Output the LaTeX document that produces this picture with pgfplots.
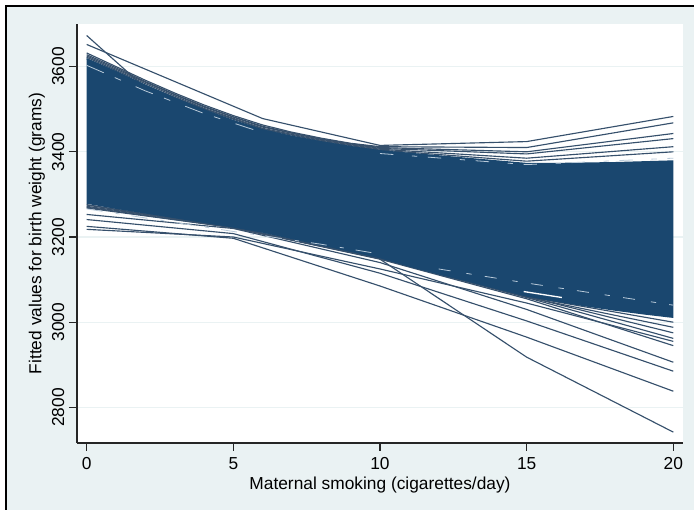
\documentclass[border=0pt]{standalone}
\usepackage{pgfplots}
\pgfplotsset{compat=1.18}
\usepackage{fontspec}
\setmainfont{Liberation Sans}
\definecolor{statabg}{HTML}{EAF2F3}
\definecolor{navy}{HTML}{1A476F}
\definecolor{lnc}{HTML}{36506C}
\definecolor{streak}{HTML}{B9CAD9}
\begin{document}
\begin{tikzpicture}[x=1pt,y=1pt]
\useasboundingbox (0,0) rectangle (520.5,382.5);
\fill[white] (0,0) rectangle (520.5,382.5);
\fill[statabg] (4.5,0) rectangle (520.5,378);
\draw[black, line width=1pt] (4.5,-1) -- (4.5,378) -- (521.5,378);
\begin{axis}[at={(57.75pt,50.25pt)}, anchor=south west, scale only axis,
 width=454.5pt, height=314.25pt,
 xmin=-0.33, xmax=20.33, ymin=2716.5, ymax=3700,
 axis background/.style={fill=white},
 axis x line*=bottom, axis y line*=left,
 axis line style={line width=0.8pt, black!85, -},
 xtick={0,5,10,15,20}, ytick={2800,3000,3200,3400,3600},
 tick align=outside, major tick length=6pt,
 tick style={line width=0.8pt, black!85},
 ymajorgrids, grid style={statabg, line width=0.8pt},
 /pgf/number format/assume math mode=true,
 /pgf/number format/1000 sep={},
 tick label style={font=\fontsize{13pt}{15pt}\selectfont, black},
 yticklabel style={rotate=90, anchor=south, xshift=0pt},
 xticklabel style={yshift=-1.5pt},
 label style={font=\fontsize{13pt}{15pt}\selectfont, black},
 xlabel={Maternal smoking (cigarettes/day)},
 ylabel={Fitted values for birth weight (grams)},
 xlabel style={at={(axis description cs:0.5,-0.1)}, anchor=center},
 ylabel style={at={(axis description cs:-0.066,0.5)}, anchor=center},
 every axis plot/.append style={mark=none},
 clip=true
]
% individual fitted lines (outliers of the bootstrap fan)
\addplot[lnc, line width=0.85pt] coordinates {(0,3673) (2,3550) (5,3400) (10,3148) (15,2918) (20,2742)};
\addplot[lnc, line width=0.85pt] coordinates {(0,3652) (6,3478) (10,3415) (15,3424) (20,3483)};
\addplot[lnc, line width=0.85pt] coordinates {(0,3632) (1,3600) (2,3568) (3,3538) (4,3510) (5,3485) (6,3463) (7,3446) (8,3432) (9,3420) (10,3412) (15,3410) (20,3468)};
\addplot[lnc, line width=0.85pt] coordinates {(0,3628) (1,3597) (2,3565) (3,3535) (4,3507) (5,3482) (6,3460) (7,3444) (8,3430) (9,3419) (10,3410) (15,3400) (20,3443)};
\addplot[lnc, line width=0.85pt] coordinates {(0,3625) (2,3563) (4,3505) (6,3458) (8,3429) (10,3408) (15,3395) (20,3431)};
\addplot[lnc, line width=0.85pt] coordinates {(0,3622) (2,3560) (4,3502) (6,3455) (8,3427) (10,3406) (15,3385) (20,3412)};
\addplot[lnc, line width=0.85pt] coordinates {(0,3618) (2,3556) (4,3500) (6,3453) (8,3425) (10,3404) (15,3378) (20,3400)};
\addplot[lnc, line width=0.85pt] coordinates {(0,3253) (5,3220) (10,3140) (15,3030) (20,2906)};
\addplot[lnc, line width=0.85pt] coordinates {(0,3241) (5,3208) (10,3115) (15,3003) (20,2885)};
\addplot[lnc, line width=0.85pt] coordinates {(0,3225) (5,3197) (10,3085) (15,2965) (20,2838)};
\addplot[lnc, line width=0.85pt] coordinates {(0,3218) (5,3200) (10,3125) (15,3045) (20,2955)};
\addplot[lnc, line width=0.85pt] coordinates {(0,3268) (5,3222) (10,3148) (15,3055) (20,2945)};
\addplot[lnc, line width=0.85pt] coordinates {(0,3272) (5,3224) (10,3150) (15,3058) (20,2962)};
\addplot[lnc, line width=0.85pt] coordinates {(0,3275) (5,3223) (10,3150) (15,3060) (20,2975)};
\addplot[lnc, line width=0.85pt] coordinates {(0,3270) (5,3222) (10,3149) (15,3059) (20,2988)};
\addplot[lnc, line width=0.85pt] coordinates {(0,3276) (5,3222) (10,3150) (15,3060) (20,3000)};
% dense band of fitted lines (envelope)
\addplot[fill=navy, draw=none] coordinates {
 (0,3620) (1,3590) (2,3558) (3,3528) (4,3500) (5,3475) (6,3453) (7,3438) (8,3425) (9,3414) (10,3404)
 (11,3398) (12,3392) (13,3386) (14,3380) (15,3374) (16,3374) (17,3375) (18,3376) (19,3378) (20,3380)
 (20,3010) (19,3018) (18,3027) (17,3037) (16,3048) (15,3060) (14,3077) (13,3095) (12,3112) (11,3130)
 (10,3150) (9,3165) (8,3180) (7,3195) (6,3210) (5,3222) (4,3233) (3,3244) (2,3255) (1,3266) (0,3278)
};
% gaps between lines
\addplot[streak, line width=0.6pt, dash pattern=on 14pt off 9pt on 5pt off 12pt] coordinates {(0,3603) (2,3543) (4,3490) (6,3445)};
\addplot[streak, line width=0.6pt, dash pattern=on 10pt off 14pt on 4pt off 8pt] coordinates {(10,3396) (15,3370) (20,3385)};
\addplot[streak, line width=0.6pt, dash pattern=on 12pt off 10pt on 3pt off 9pt] coordinates {(0,3266) (5,3213) (8,3183) (10,3160)};
\addplot[white, line width=1pt] coordinates {(14.9,3072) (16.2,3058)};
\addplot[streak, line width=0.6pt, dash pattern=on 9pt off 12pt on 4pt off 10pt] coordinates {(12,3125) (15,3092) (20,3040)};
\end{axis}
\end{tikzpicture}
\end{document}
